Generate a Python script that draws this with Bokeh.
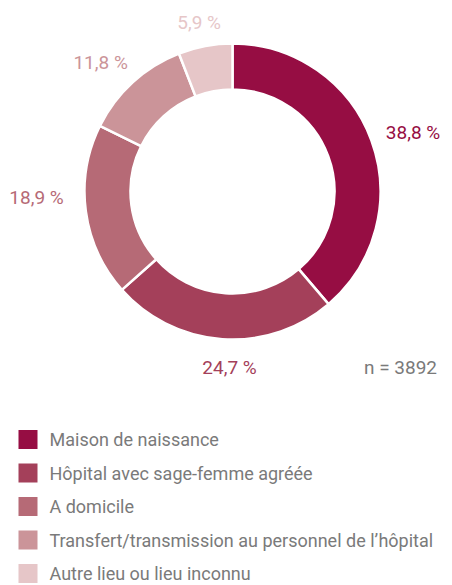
import math
from bokeh.plotting import figure
from bokeh.models import ColumnDataSource, Range1d
from bokeh.core.properties import value
from bokeh.embed import file_html
from bokeh.resources import INLINE

categories = ["Maison de naissance", "Hôpital avec sage-femme agréée", "A domicile",
              "Transfert/transmission au personnel de l\u2019hôpital", "Autre lieu ou lieu inconnu"]
shares = [38.8, 24.7, 18.9, 11.8, 5.9]
labels = ["38,8 %", "24,7 %", "18,9 %", "11,8 %", "5,9 %"]
colors = ["#960d43", "#a4405a", "#b66a76", "#cb9499", "#e6c6c8"]
n_label = "n = 3892"

# small screen-pixel nudges for the slice labels (layout only)
label_nudge_x = [1, 9, -7, -5, -1]
label_nudge_y = [7, 3, -19, 10, 4]

FONT = "Roboto"
W, H = 452, 585
p = figure(width=W, height=H, x_range=Range1d(0, W), y_range=Range1d(-H, 0),
           output_backend="svg", toolbar_location=None, min_border=0)
p.axis.visible = False
p.grid.visible = False
p.outline_line_color = None

cx, cy = 232, -191
r_in, r_out = 102, 148
total = sum(shares)
starts, ends, mids = [], [], []
cum = 0.0
for s in shares:
    a0 = math.pi / 2 - 2 * math.pi * cum / total
    cum += s
    a1 = math.pi / 2 - 2 * math.pi * cum / total
    starts.append(a0)
    ends.append(a1)
    mids.append((a0 + a1) / 2)

src = ColumnDataSource(dict(start=starts, end=ends, color=colors))
p.annular_wedge(x=cx, y=cy, inner_radius=r_in, outer_radius=r_out, start_angle="start",
                end_angle="end", direction="clock", fill_color="color",
                line_color="white", line_width=2.5, source=src)

# labels outside ring
lx, ly = [], []
for m, t, nx, ny in zip(mids, labels, label_nudge_x, label_nudge_y):
    hw = len(t) * 4.6
    hh = 10
    r = r_out + 14 + hw * abs(math.cos(m)) + hh * abs(math.sin(m))
    lx.append(cx + r * math.cos(m) + nx)
    ly.append(cy + r * math.sin(m) - ny)
p.text(x=lx, y=ly, text=labels, text_color=colors, text_align="center",
       text_baseline="middle", text_font=value(FONT), text_font_size="19px")

p.text(x=[400], y=[-367], text=[n_label], text_color="#7a7a7a", text_align="center",
       text_baseline="middle", text_font=value(FONT), text_font_size="19px")

# legend
row0, step = -439, 33.5
ys = [row0 - i * step for i in range(len(categories))]
p.rect(x=[27.5] * len(categories), y=ys, width=19, height=19, fill_color=colors,
       line_color=None)
p.text(x=[49] * len(categories), y=ys, text=categories, text_color="#7a7a7a",
       text_align="left", text_baseline="middle", text_font=value(FONT),
       text_font_size="18px")

open("out.html", "w").write(file_html(p, INLINE))
